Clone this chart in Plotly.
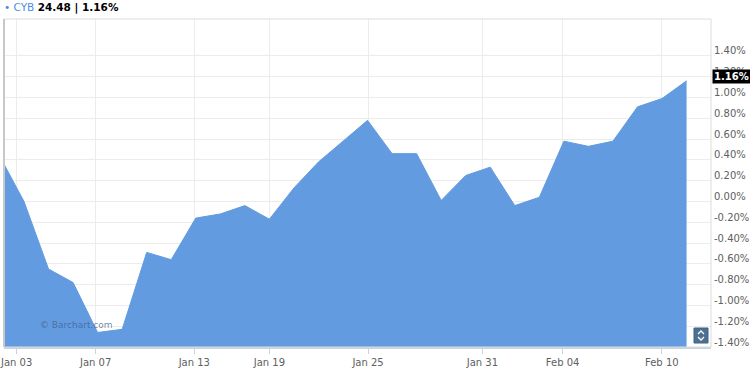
import plotly.graph_objects as go

# ---- data ----
pct_change = [0.44, 0.00, -0.65, -0.78, -1.26, -1.23, -0.49, -0.56, -0.16, -0.12,
              -0.04, -0.17, 0.13, 0.38, 0.58, 0.78, 0.46, 0.46, 0.01, 0.25,
              0.33, -0.04, 0.04, 0.58, 0.53, 0.58, 0.91, 0.99, 1.16]
day_index = list(range(len(pct_change)))

x_tick_pos = [0.70, 3.92, 7.94, 11.0, 15.02, 19.68, 22.95, 26.99]
x_tick_labels = ["Jan 03", "Jan 07", "Jan 13", "Jan 19", "Jan 25", "Jan 31", "Feb 04", "Feb 10"]

y_tick_values = [-1.4, -1.2, -1.0, -0.8, -0.6, -0.4, -0.2, 0.0, 0.2, 0.4, 0.6, 0.8, 1.0, 1.2, 1.4]
y_tick_labels = [f"{v:.2f}%" for v in y_tick_values]

symbol = "CYB"
last_price = "24.48"
last_change = "1.16%"
y_floor = -1.40
y_top = 1.755

FILL = "rgb(98,155,224)"
FONT = "DejaVu Sans"

fig = go.Figure()
# baseline at the chart floor, the area is filled down to it
fig.add_trace(go.Scatter(x=day_index, y=[y_floor] * len(day_index), mode="lines",
                         line=dict(width=0, color=FILL), hoverinfo="skip", showlegend=False))
fig.add_trace(go.Scatter(x=day_index, y=pct_change, mode="lines", fill="tonexty",
                         fillcolor=FILL, line=dict(width=1, color=FILL), showlegend=False))

fig.update_layout(
    width=750, height=369,
    margin=dict(l=4, r=39, t=19, b=22),
    paper_bgcolor="white", plot_bgcolor="white",
    font=dict(family=FONT, size=10, color="#606060"),
    xaxis=dict(range=[0.185, 28.995], tickmode="array", tickvals=x_tick_pos,
               ticktext=x_tick_labels, showgrid=True, gridcolor="#ececec", gridwidth=1,
               zeroline=False, showline=True, linecolor="#c6d3e3", linewidth=2,
               ticks="outside", ticklen=5, tickcolor="#c6d3e3",
               ticklabelstandoff=0, ticklabeloverflow="allow", automargin=False,
               tickfont=dict(family=FONT, size=10, color="#606060")),
    yaxis=dict(range=[y_floor, y_top], side="right", tickmode="array",
               tickvals=y_tick_values, ticktext=y_tick_labels, showgrid=True,
               gridcolor="#ececec", gridwidth=1, zeroline=False, showline=False,
               ticks="", ticklabelstandoff=2, ticklabelshift=-5,
               ticklabeloverflow="allow", automargin=False,
               tickfont=dict(family=FONT, size=10, color="#606060")),
)

# plot frame
fig.add_shape(type="rect", xref="paper", yref="paper", x0=0, x1=1, y0=0, y1=1,
              line=dict(color="#dcdcdc", width=1), layer="above")
fig.add_shape(type="line", xref="paper", yref="paper", x0=0, x1=0, y0=0, y1=1,
              line=dict(color="#c8c8c8", width=2), layer="above")

# header
fig.add_annotation(xref="paper", yref="paper", x=0, y=1, xanchor="left", yanchor="middle",
                   xshift=-2, yshift=12, showarrow=False,
                   text=(f"<span style='color:#4a90e2'>• {symbol}</span> "
                         f"<b>{last_price} | {last_change}</b>"),
                   font=dict(family=FONT, size=10.5, color="#000000"))

# last value marker on the axis
fig.add_annotation(xref="paper", yref="y", x=1, y=pct_change[-1], xanchor="left",
                   yanchor="middle", xshift=1, yshift=4, showarrow=False,
                   text=f"<b>{last_change}</b>", bgcolor="#000000", borderpad=1,
                   font=dict(family=FONT, size=10, color="#ffffff"))

# watermark
fig.add_annotation(xref="paper", yref="paper", x=0.048, y=0.067, xanchor="left",
                   yanchor="middle", showarrow=False, text="© Barchart.com",
                   font=dict(family=FONT, size=9, color="rgba(70,95,140,0.75)"))

# small scroll control in the bottom right corner
bx0, bx1 = (694 - 4) / 707, (708 - 4) / 707
by0, by1 = (347 - 343) / 328, (347 - 328) / 328
fig.add_shape(type="rect", xref="paper", yref="paper", x0=bx0, x1=bx1, y0=by0, y1=by1,
              fillcolor="#4c7092", line=dict(color="#3f6283", width=1), layer="above")
cx = (bx0 + bx1) / 2
hw = 3 / 707
fig.add_shape(type="path", xref="paper", yref="paper",
              path=(f"M {cx - hw} {(347 - 334) / 328} L {cx} {(347 - 331) / 328} "
                    f"L {cx + hw} {(347 - 334) / 328}"),
              line=dict(color="white", width=1.3), layer="above")
fig.add_shape(type="path", xref="paper", yref="paper",
              path=(f"M {cx - hw} {(347 - 337) / 328} L {cx} {(347 - 340) / 328} "
                    f"L {cx + hw} {(347 - 337) / 328}"),
              line=dict(color="white", width=1.3), layer="above")

fig.write_html("out.html")
